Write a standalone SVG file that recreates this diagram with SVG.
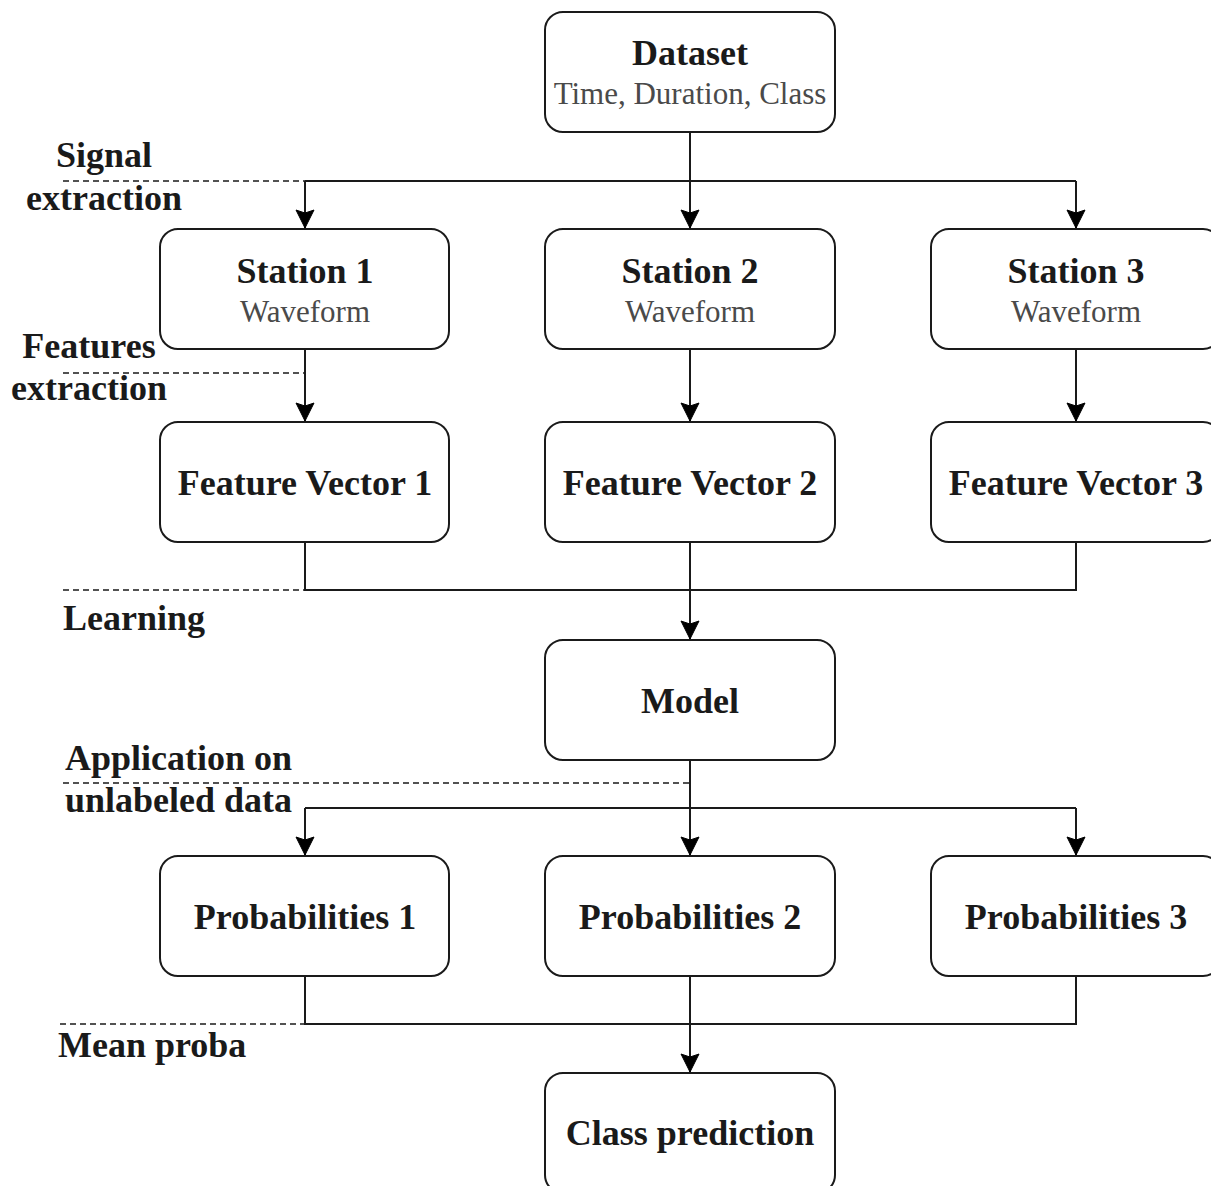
<svg xmlns="http://www.w3.org/2000/svg" width="1211" height="1186" viewBox="0 0 1211 1186">
<style>
  .box { fill: #ffffff; stroke: #1a1a1a; stroke-width: 2; }
  .t { font-family: "Liberation Serif", "Times New Roman", serif; font-weight: bold; font-size: 36px; fill: #1a1a1a; text-anchor: middle; }
  .s { font-family: "Liberation Serif", "Times New Roman", serif; font-size: 31px; fill: #4a4a4a; text-anchor: middle; }
  .lab { font-family: "Liberation Serif", "Times New Roman", serif; font-weight: bold; font-size: 36px; fill: #1a1a1a; }
  .c { fill: none; stroke: #1a1a1a; stroke-width: 2; }
  .d { fill: none; stroke: #1a1a1a; stroke-width: 1.5; stroke-dasharray: 6 4; }
</style>
<defs>
  <marker id="arr" markerUnits="userSpaceOnUse" markerWidth="24" markerHeight="24" viewBox="-20 -12 24 24" refX="0" refY="0" orient="auto" overflow="visible">
    <path d="M 0 0 L -18 -9 L -15 0 L -18 9 Z" fill="#000000" stroke="#000000" stroke-width="1" stroke-linejoin="miter"/>
  </marker>
</defs>
<rect width="1211" height="1186" fill="#ffffff"/>

<g id="connectors">
  <path class="c" d="M 690 132 L 690 228" marker-end="url(#arr)"/>
  <path class="c" d="M 305 181 L 1076 181"/>
  <path class="c" d="M 305 181 L 305 228" marker-end="url(#arr)"/>
  <path class="c" d="M 1076 181 L 1076 228" marker-end="url(#arr)"/>
  <path class="c" d="M 305 349 L 305 421" marker-end="url(#arr)"/>
  <path class="c" d="M 690 349 L 690 421" marker-end="url(#arr)"/>
  <path class="c" d="M 1076 349 L 1076 421" marker-end="url(#arr)"/>
  <path class="c" d="M 305 542 L 305 590 L 1076 590 L 1076 542"/>
  <path class="c" d="M 690 542 L 690 639" marker-end="url(#arr)"/>
  <path class="c" d="M 690 760 L 690 855" marker-end="url(#arr)"/>
  <path class="c" d="M 305 808 L 1076 808"/>
  <path class="c" d="M 305 808 L 305 855" marker-end="url(#arr)"/>
  <path class="c" d="M 1076 808 L 1076 855" marker-end="url(#arr)"/>
  <path class="c" d="M 305 976 L 305 1024 L 1076 1024 L 1076 976"/>
  <path class="c" d="M 690 976 L 690 1072" marker-end="url(#arr)"/>
  <path class="d" d="M 63 181 L 305 181"/>
  <path class="d" d="M 63 373 L 305 373"/>
  <path class="d" d="M 63 590 L 305 590"/>
  <path class="d" d="M 63 783 L 690 783"/>
  <path class="d" d="M 60 1024 L 305 1024"/>
</g>

<g id="stage-labels">
  <text class="lab" x="104" y="167" text-anchor="middle">Signal</text>
  <text class="lab" x="104" y="210" text-anchor="middle">extraction</text>
  <text class="lab" x="89" y="358" text-anchor="middle">Features</text>
  <text class="lab" x="89" y="400" text-anchor="middle">extraction</text>
  <text class="lab" x="63" y="630">Learning</text>
  <text class="lab" x="65" y="770">Application on</text>
  <text class="lab" x="65" y="812">unlabeled data</text>
  <text class="lab" x="58" y="1057">Mean proba</text>
</g>

<g id="dataset">
  <rect class="box" x="545" y="12" width="290" height="120" rx="18"/>
  <text class="t" x="690" y="65">Dataset</text>
  <text class="s" x="690" y="104">Time, Duration, Class</text>
</g>

<g id="station1">
  <rect class="box" x="160" y="229" width="289" height="120" rx="18"/>
  <text class="t" x="305" y="283">Station 1</text>
  <text class="s" x="305" y="322">Waveform</text>
</g>
<g id="station2">
  <rect class="box" x="545" y="229" width="290" height="120" rx="18"/>
  <text class="t" x="690" y="283">Station 2</text>
  <text class="s" x="690" y="322">Waveform</text>
</g>
<g id="station3">
  <rect class="box" x="931" y="229" width="290" height="120" rx="18"/>
  <text class="t" x="1076" y="283">Station 3</text>
  <text class="s" x="1076" y="322">Waveform</text>
</g>

<g id="feature-vector-1">
  <rect class="box" x="160" y="422" width="289" height="120" rx="18"/>
  <text class="t" x="305" y="495">Feature Vector 1</text>
</g>
<g id="feature-vector-2">
  <rect class="box" x="545" y="422" width="290" height="120" rx="18"/>
  <text class="t" x="690" y="495">Feature Vector 2</text>
</g>
<g id="feature-vector-3">
  <rect class="box" x="931" y="422" width="290" height="120" rx="18"/>
  <text class="t" x="1076" y="495">Feature Vector 3</text>
</g>

<g id="model">
  <rect class="box" x="545" y="640" width="290" height="120" rx="18"/>
  <text class="t" x="690" y="713">Model</text>
</g>

<g id="probabilities-1">
  <rect class="box" x="160" y="856" width="289" height="120" rx="18"/>
  <text class="t" x="305" y="929">Probabilities 1</text>
</g>
<g id="probabilities-2">
  <rect class="box" x="545" y="856" width="290" height="120" rx="18"/>
  <text class="t" x="690" y="929">Probabilities 2</text>
</g>
<g id="probabilities-3">
  <rect class="box" x="931" y="856" width="290" height="120" rx="18"/>
  <text class="t" x="1076" y="929">Probabilities 3</text>
</g>

<g id="class-prediction">
  <rect class="box" x="545" y="1073" width="290" height="120" rx="18"/>
  <text class="t" x="690" y="1145">Class prediction</text>
</g>
</svg>
